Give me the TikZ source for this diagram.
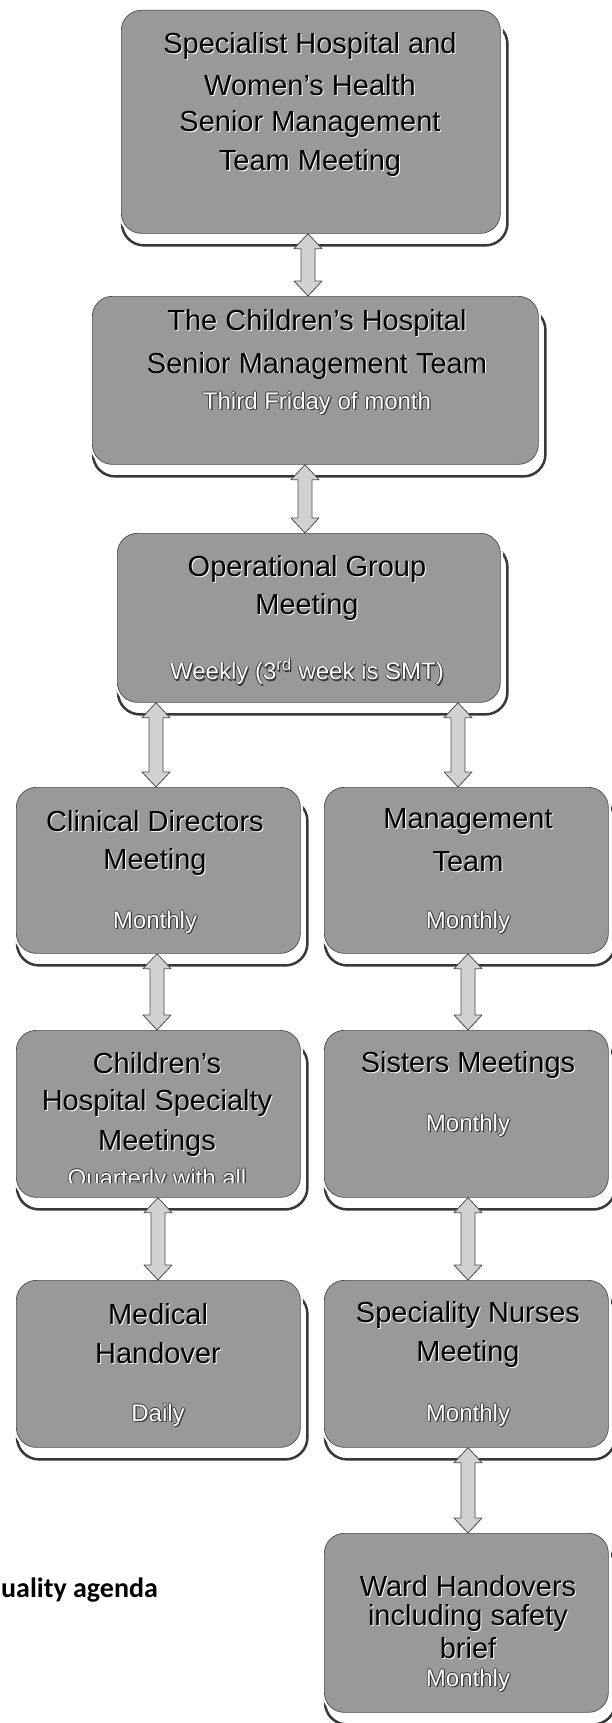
\documentclass[tikz,border=0pt]{standalone}
\usepackage{fontspec}
\setmainfont{Liberation Sans}
\newfontfamily\calib{Carlito}
\usetikzlibrary{calc}
\definecolor{boxgray}{gray}{0.60}
\definecolor{arrowgray}{gray}{0.82}
\definecolor{edgegray}{gray}{0.30}
\definecolor{shadowgray}{gray}{0.22}

\newcommand\glow[1]{\leavevmode\rlap{\kern1pt\raisebox{-1pt}{\color{white}#1}}{\color{black}#1}}
\newcommand\outl[1]{\leavevmode
 \rlap{\kern-0.8pt{\color{shadowgray}#1}}%
 \rlap{\kern0.8pt{\color{shadowgray}#1}}%
 \rlap{\raisebox{0.8pt}{\color{shadowgray}#1}}%
 \rlap{\raisebox{-0.8pt}{\color{shadowgray}#1}}%
 \rlap{\kern1.2pt\raisebox{-1.2pt}{\color{shadowgray}#1}}%
 {\color{white}#1}}

\newcommand\darrow[3]{%
 \draw[dblarrow] let \p1=(#2.south), \p2=(#3.north), \p3=(#1,0) in
  (\x3,\y1) -- (\x3+14pt,\y1-15pt) -- (\x3+7pt,\y1-15pt) -- (\x3+7pt,\y2+15pt)
  -- (\x3+14pt,\y2+15pt) -- (\x3,\y2) -- (\x3-14pt,\y2+15pt) -- (\x3-7pt,\y2+15pt)
  -- (\x3-7pt,\y1-15pt) -- (\x3-14pt,\y1-15pt) -- cycle;}

\newcommand\shadowof[1]{%
 \draw[shadowline] ($(#1.north west)+(1,12)$) rectangle ($(#1.south east)+(7,12)$);}

\tikzset{
 box/.style={rectangle, rounded corners=20pt, anchor=north west, inner sep=0pt,
   fill=boxgray, draw=edgegray, line width=0.7pt, preaction={draw=white, line width=5pt}},
 ghost/.style={rectangle, anchor=north west, inner sep=0pt, draw=none, fill=none},
 shadowline/.style={draw=shadowgray, line width=2.5pt, rounded corners=22pt},
 ttl/.style={font=\fontsize{29}{33}\selectfont, inner sep=0pt, anchor=center},
 subt/.style={font=\fontsize{24}{28}\selectfont, inner sep=0pt, anchor=center},
 dblarrow/.style={fill=arrowgray, draw=edgegray, line width=0.8pt, line join=round},
 note/.style={font=\calib\bfseries\fontsize{28}{32}\selectfont, anchor=west, inner sep=0pt},
}

\begin{document}
\begin{tikzpicture}[x=1pt,y=-1pt]
\useasboundingbox[fill=white] (0,0) rectangle (611,1723);

\path (121,10) coordinate (p1) (92,296) coordinate (p2) (117,533) coordinate (p3)
      (16,787) coordinate (p4l) (324,787) coordinate (p4r)
      (16,1030) coordinate (p5l) (324,1030) coordinate (p5r)
      (16,1280) coordinate (p6l) (324,1280) coordinate (p6r)
      (324,1533) coordinate (p7r);

% shadow outlines (drawn from invisible copies of the boxes)
\node[ghost, minimum width=379pt, minimum height=223pt] (g1) at (p1) {};
\node[ghost, minimum width=446pt, minimum height=168pt] (g2) at (p2) {};
\node[ghost, minimum width=383pt, minimum height=169pt] (g3) at (p3) {};
\node[ghost, minimum width=284pt, minimum height=166pt] (g4l) at (p4l) {};
\node[ghost, minimum width=284pt, minimum height=166pt] (g4r) at (p4r) {};
\node[ghost, minimum width=284pt, minimum height=167pt] (g5l) at (p5l) {};
\node[ghost, minimum width=284pt, minimum height=167pt] (g5r) at (p5r) {};
\node[ghost, minimum width=284pt, minimum height=167pt] (g6l) at (p6l) {};
\node[ghost, minimum width=284pt, minimum height=167pt] (g6r) at (p6r) {};
\node[ghost, minimum width=284pt, minimum height=179pt] (g7r) at (p7r) {};
\foreach \g in {g1,g2,g3,g4l,g4r,g5l,g5r,g6l,g6r,g7r}{\shadowof{\g}}

\node[box, minimum width=379pt, minimum height=223pt] (b1) at (p1) {};
\node[box, minimum width=446pt, minimum height=168pt] (b2) at (p2) {};
\node[box, minimum width=383pt, minimum height=169pt] (b3) at (p3) {};
\node[box, minimum width=284pt, minimum height=166pt] (b4l) at (p4l) {};
\node[box, minimum width=284pt, minimum height=166pt] (b4r) at (p4r) {};
\node[box, minimum width=284pt, minimum height=167pt] (b5l) at (p5l) {};
\node[box, minimum width=284pt, minimum height=167pt] (b5r) at (p5r) {};
\node[box, minimum width=284pt, minimum height=167pt] (b6l) at (p6l) {};
\node[box, minimum width=284pt, minimum height=167pt] (b6r) at (p6r) {};
\node[box, minimum width=284pt, minimum height=179pt] (b7r) at (p7r) {};

% texts
\node[ttl] (t1a) at (310,47)  {\glow{Specialist Hospital and}};
\node[ttl] (t1b) at (310,86)  {\glow{Women’s Health}};
\node[ttl] (t1c) at (310,125) {\glow{Senior Management}};
\node[ttl] (t1d) at (310,164) {\glow{Team Meeting}};

\node[ttl]  (t2a) at (317,324) {\glow{The Children’s Hospital}};
\node[ttl]  (t2b) at (317,366) {\glow{Senior Management Team}};
\node[subt] (t2c) at (317,403) {\outl{Third Friday of month}};

\node[ttl]  (t3a) at (307,569) {\glow{Operational Group}};
\node[ttl]  (t3b) at (307,607) {\glow{Meeting}};
\node[subt] (t3c) at (307,672) {\outl{Weekly (3\textsuperscript{rd} week is SMT)}};

\node[ttl]  (t4la) at (155,822) {\glow{Clinical Directors}};
\node[ttl]  (t4lb) at (155,862) {\glow{Meeting}};
\node[subt] (t4lc) at (155,922) {\outl{Monthly}};
\node[ttl]  (t4ra) at (468,822) {\glow{Management}};
\node[ttl]  (t4rb) at (468,862) {\glow{Team}};
\node[subt] (t4rc) at (468,922) {\outl{Monthly}};

\node[ttl]  (t5la) at (157,1064) {\glow{Children’s}};
\node[ttl]  (t5lb) at (157,1103) {\glow{Hospital Specialty}};
\node[ttl]  (t5lc) at (157,1143) {\glow{Meetings}};
\begin{scope}
\clip (16,1030) rectangle (300,1182);
\node[subt] (t5ld) at (157,1180) {\outl{Quarterly with all}};
\end{scope}
\node[ttl]  (t5ra) at (468,1065) {\glow{Sisters Meetings}};
\node[subt] (t5rb) at (468,1125) {\outl{Monthly}};

\node[ttl]  (t6la) at (158,1315) {\glow{Medical}};
\node[ttl]  (t6lb) at (158,1354) {\glow{Handover}};
\node[subt] (t6lc) at (158,1415) {\outl{Daily}};
\node[ttl]  (t6ra) at (468,1315) {\glow{Speciality Nurses}};
\node[ttl]  (t6rb) at (468,1354) {\glow{Meeting}};
\node[subt] (t6rc) at (468,1415) {\outl{Monthly}};

\node[ttl]  (t7a) at (468,1587) {\glow{Ward Handovers}};
\node[ttl]  (t7b) at (468,1618) {\glow{including safety}};
\node[ttl]  (t7c) at (468,1649) {\glow{brief}};
\node[subt] (t7d) at (468,1680) {\outl{Monthly}};

\node[note] (q) at (1,1590) {uality agenda};

% arrows
\darrow{308}{b1}{b2}
\darrow{305}{b2}{b3}
\darrow{156}{b3}{b4l}
\darrow{458}{b3}{b4r}
\darrow{157}{b4l}{b5l}
\darrow{468}{b4r}{b5r}
\darrow{158}{b5l}{b6l}
\darrow{468}{b5r}{b6r}
\darrow{468}{b6r}{b7r}
\end{tikzpicture}
\end{document}
